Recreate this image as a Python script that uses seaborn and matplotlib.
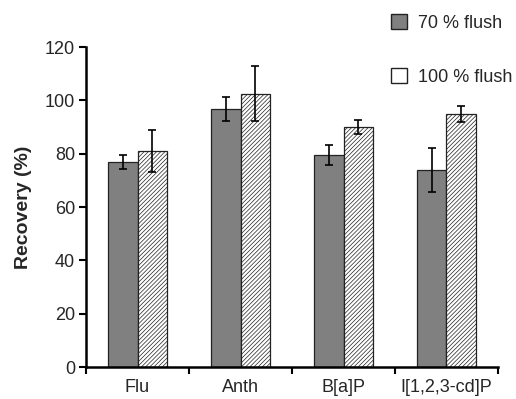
import matplotlib
matplotlib.use("Agg")
import matplotlib.pyplot as plt
import seaborn as sns
import pandas as pd
import numpy as np
from matplotlib.patches import Patch

categories = ["Flu", "Anth", "B[a]P", "I[1,2,3-cd]P"]
series_names = ["70 % flush", "100 % flush"]
vals_70 = [77, 96.8, 79.5, 73.8]
err_70 = [2.6, 4.4, 3.6, 8.2]
vals_100 = [81, 102.5, 90, 94.8]
err_100 = [7.8, 10.2, 2.6, 3.0]
yticks = [0, 20, 40, 60, 80, 100, 120]

sns.set_theme(style="ticks")
plt.rcParams['font.family'] = ['Liberation Sans', 'DejaVu Sans']
plt.rcParams['hatch.linewidth'] = 0.5

df = pd.DataFrame({
    "cat": categories * 2,
    "series": [series_names[0]] * 4 + [series_names[1]] * 4,
    "val": vals_70 + vals_100,
})

fig = plt.figure(figsize=(5.16, 3.99), dpi=100)
ax = fig.add_axes([86/516, 32/399, 412/516, 320/399])

sns.barplot(data=df, x="cat", y="val", hue="series", order=categories,
            hue_order=series_names, palette=["#808080", "white"],
            width=0.58, gap=0, errorbar=None, edgecolor="#222222",
            linewidth=0.9, legend=False, ax=ax)

bars = [p for p in ax.patches]
bars70 = bars[:4]
bars100 = bars[4:8]
for b in bars100:
    b.set_hatch("////////")
    if hasattr(b, "set_hatchcolor"):
        b.set_hatchcolor("#555555")

for grp, vals, errs in [(bars70, vals_70, err_70), (bars100, vals_100, err_100)]:
    xs = [b.get_x() + b.get_width() / 2 for b in grp]
    ax.errorbar(xs, vals, yerr=errs, fmt="none", ecolor="black",
                elinewidth=1.2, capsize=3.2, capthick=1.2, zorder=5)

ax.set_ylim(0, 120)
ax.set_xlim(-0.5, 3.5)
ax.set_yticks(yticks)
ax.set_yticklabels([str(t) for t in yticks], fontsize=13)
ax.set_xticks(range(4))
ax.set_xticklabels(categories, fontsize=13)
ax.tick_params(axis="x", which="major", length=0, pad=9)
ax.set_xticks(np.arange(-0.5, 4.0, 1.0), minor=True)
ax.tick_params(axis="x", which="minor", length=5, width=1.5, direction="out", color="black")
ax.tick_params(axis="y", length=5, width=1.5, direction="out", color="black", pad=3)
for s in ["top", "right"]:
    ax.spines[s].set_visible(False)
for s in ["left", "bottom"]:
    ax.spines[s].set_linewidth(1.8)
    ax.spines[s].set_color("black")
ax.set_xlabel("")
ax.set_ylabel("Recovery (%)", fontsize=14, fontweight="bold", labelpad=9)

handles = [Patch(facecolor="#808080", edgecolor="#222222", linewidth=1.0),
           Patch(facecolor="white", edgecolor="#222222", linewidth=1.0)]
fig.legend(handles, series_names, loc="upper left", bbox_to_anchor=(391/516, 1 - 14/399),
           frameon=False, fontsize=13, handlelength=0.9, handleheight=0.9,
           handletextpad=0.6, labelspacing=2.0, borderaxespad=0.0, borderpad=0.0)

fig.savefig("out.png", dpi=100)
